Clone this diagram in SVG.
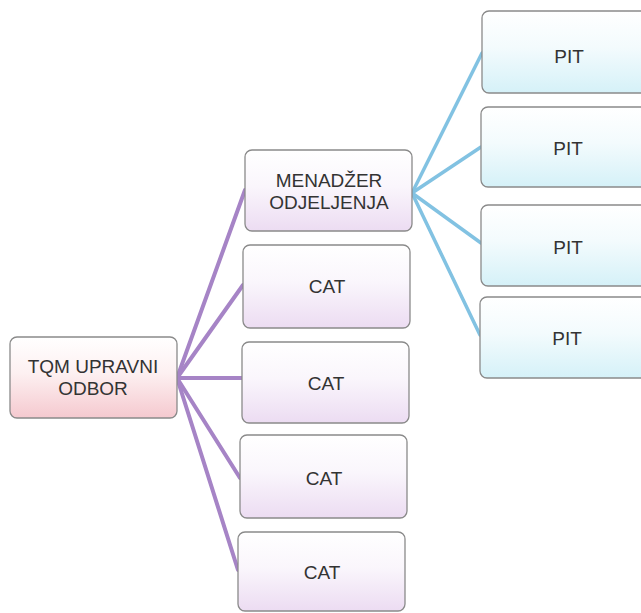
<svg xmlns="http://www.w3.org/2000/svg" width="641" height="613" viewBox="0 0 641 613">
  <defs>
    <linearGradient id="gPink" x1="0" y1="0" x2="0" y2="1">
      <stop offset="0" stop-color="#ffffff"/>
      <stop offset="0.45" stop-color="#fdf0f1"/>
      <stop offset="1" stop-color="#f5c9cf"/>
    </linearGradient>
    <linearGradient id="gPurple" x1="0" y1="0" x2="0" y2="1">
      <stop offset="0" stop-color="#ffffff"/>
      <stop offset="0.45" stop-color="#faf6fc"/>
      <stop offset="1" stop-color="#ecdcf2"/>
    </linearGradient>
    <linearGradient id="gBlue" x1="0" y1="0" x2="0" y2="1">
      <stop offset="0" stop-color="#ffffff"/>
      <stop offset="0.45" stop-color="#f3fbfd"/>
      <stop offset="1" stop-color="#d5f1f8"/>
    </linearGradient>
  </defs>
  <style>
    .box { stroke: #8a8a8a; stroke-width: 1.3; }
    .pink { fill: url(#gPink); }
    .purple { fill: url(#gPurple); }
    .blue { fill: url(#gBlue); }
    .lbl { font-family: "Liberation Sans", Arial, sans-serif; font-size: 19px; fill: #333333; text-anchor: middle; }
    .cp { stroke: #a684c6; stroke-width: 4; stroke-linecap: round; fill: none; }
    .cb { stroke: #82c2e2; stroke-width: 3.5; stroke-linecap: round; fill: none; }
  </style>
  <rect width="641" height="613" fill="#ffffff"/>

  <g id="connectors">
    <line class="cp" x1="177" y1="378" x2="245" y2="190"/>
    <line class="cp" x1="177" y1="378" x2="243" y2="285"/>
    <line class="cp" x1="177" y1="378" x2="242" y2="378"/>
    <line class="cp" x1="177" y1="378" x2="240" y2="478"/>
    <line class="cp" x1="177" y1="378" x2="238" y2="570"/>
    <line class="cb" x1="412" y1="193" x2="482" y2="53"/>
    <line class="cb" x1="412" y1="193" x2="481" y2="147"/>
    <line class="cb" x1="412" y1="193" x2="481" y2="243"/>
    <line class="cb" x1="412" y1="193" x2="480" y2="335"/>
  </g>

  <g id="tqm">
    <rect class="box pink" x="10" y="337" width="167" height="81" rx="7"/>
    <text class="lbl" x="93" y="373">TQM UPRAVNI</text>
    <text class="lbl" x="93" y="395">ODBOR</text>
  </g>

  <g id="menadzer">
    <rect class="box purple" x="245" y="150" width="167" height="81" rx="7"/>
    <text class="lbl" x="329" y="187">MENADŽER</text>
    <text class="lbl" x="329" y="209">ODJELJENJA</text>
  </g>

  <g id="cat1">
    <rect class="box purple" x="243" y="245" width="167" height="83" rx="7"/>
    <text class="lbl" x="327" y="293">CAT</text>
  </g>
  <g id="cat2">
    <rect class="box purple" x="242" y="342" width="167" height="81" rx="7"/>
    <text class="lbl" x="326" y="390">CAT</text>
  </g>
  <g id="cat3">
    <rect class="box purple" x="240" y="435" width="167" height="83" rx="7"/>
    <text class="lbl" x="324" y="485">CAT</text>
  </g>
  <g id="cat4">
    <rect class="box purple" x="238" y="532" width="167" height="79" rx="7"/>
    <text class="lbl" x="322" y="579">CAT</text>
  </g>

  <g id="pit1">
    <rect class="box blue" x="482" y="11" width="175" height="82" rx="7"/>
    <text class="lbl" x="569" y="63">PIT</text>
  </g>
  <g id="pit2">
    <rect class="box blue" x="481" y="107" width="175" height="80" rx="7"/>
    <text class="lbl" x="568" y="155">PIT</text>
  </g>
  <g id="pit3">
    <rect class="box blue" x="481" y="205" width="175" height="81" rx="7"/>
    <text class="lbl" x="568" y="254">PIT</text>
  </g>
  <g id="pit4">
    <rect class="box blue" x="480" y="297" width="175" height="81" rx="7"/>
    <text class="lbl" x="567" y="345">PIT</text>
  </g>
</svg>
